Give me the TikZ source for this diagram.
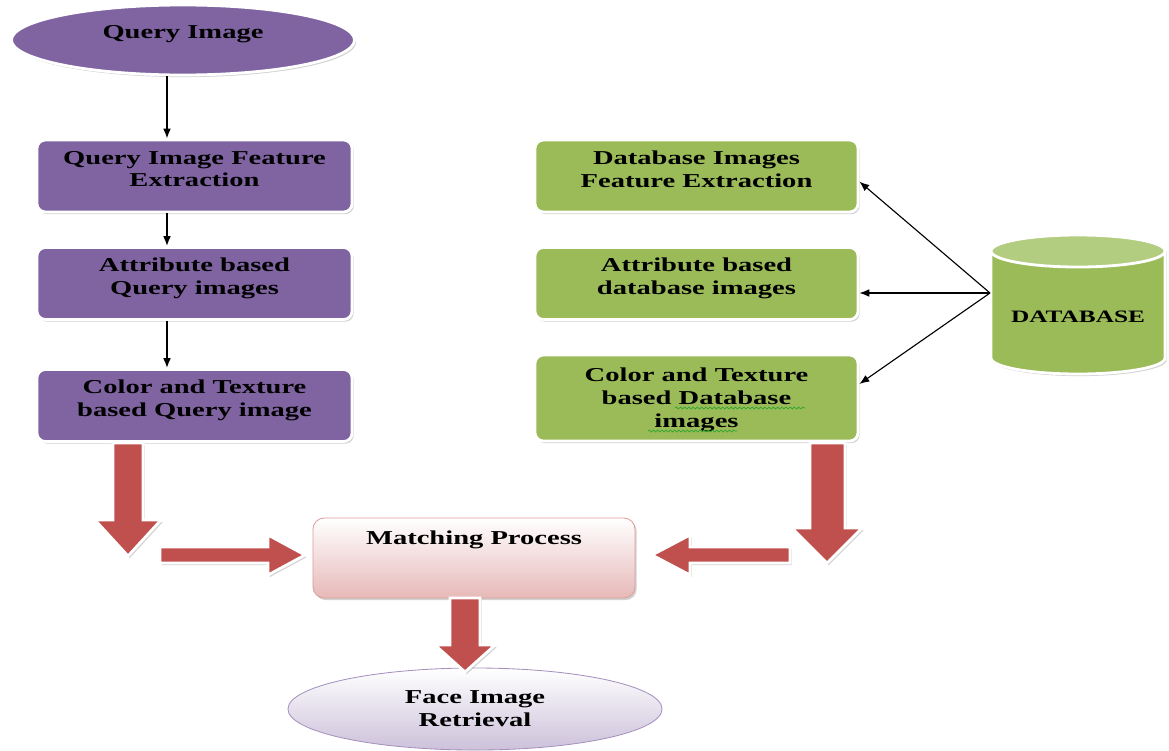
\documentclass[tikz,border=0pt]{standalone}
\usepackage{fontspec}
\setmainfont{Liberation Serif}[FakeStretch=1.45]
\usepackage{tikz}
\usetikzlibrary{shapes.geometric, arrows.meta, shadows, decorations.pathmorphing}
\definecolor{qpurple}{HTML}{8064A2}
\definecolor{dbgreen}{HTML}{9BBB59}
\definecolor{dbtop}{HTML}{B3CD80}
\definecolor{blockred}{HTML}{C0504D}
\definecolor{matchpink}{HTML}{E6B9B8}
\definecolor{facelilac}{HTML}{CCC1DA}
\definecolor{spellgreen}{HTML}{2DA52D}

\begin{document}
\begin{tikzpicture}[x=0.025cm, y=-0.025cm, font=\bfseries\fontsize{14}{16.3}\selectfont,
  softshadow/.style={drop shadow={shadow xshift=1.2pt, shadow yshift=-1.5pt, fill=black!40, opacity=.45}},
  qbox/.style={rectangle, rounded corners=6pt, fill=qpurple, draw=white, line width=2pt, softshadow,
    minimum width=7.875cm, minimum height=1.8cm, align=center, inner sep=2pt, text depth=10pt},
  dbbox/.style={qbox, fill=dbgreen, minimum width=8.075cm},
  thinarrow/.style={-{Latex[length=7pt,width=5.5pt]}, line width=1.1pt},
  dbarrow/.style={-{Latex[length=7pt,width=5.5pt]}, line width=0.8pt},
  blockarrow/.style={fill=blockred, draw=white, line width=2pt, softshadow},
  squiggle/.style={spellgreen, line width=0.5pt, decorate, decoration={snake, segment length=3pt, amplitude=0.7pt}}]
  \useasboundingbox (0,0) rectangle (1169,750);

  \node[ellipse, fill=qpurple, draw=white, line width=2pt, softshadow, minimum width=8.575cm,
        minimum height=1.75cm, text depth=0.4cm] (qimg) at (183,40) {Query Image};
  \node[qbox] (qfeat) at (194.5,176) {Query Image Feature\\ Extraction};
  \node[qbox] (qattr) at (194.5,283.5) {Attribute based\\ Query images};
  \node[qbox] (qcol) at (194.5,405.5) {Color and Texture\\ based Query image};

  \node[dbbox] (dfeat) at (696.5,176) {Database Images\\ Feature Extraction};
  \node[dbbox] (dattr) at (696.5,283.5) {Attribute based\\ database images};
  \node[dbbox, minimum height=2.15cm, text depth=0pt] (dcol) at (696.5,398) {Color and Texture\\ based Database\\ images};
  \draw[squiggle] (675,408) -- (805,408);
  \draw[squiggle] (648,431) -- (737,431);

  \path[fill=dbgreen, draw=white, line width=2pt, softshadow] (991,251) -- (991,358)
        arc[start angle=180, end angle=0, x radius=87, y radius=16] -- (1165,251)
        arc[start angle=0, end angle=-180, x radius=87, y radius=16] -- cycle;
  \filldraw[fill=dbtop, draw=white, line width=2pt] (1078,251) ellipse [x radius=87, y radius=16];
  \node[font=\bfseries\fontsize{12.4}{14}\selectfont] (db) at (1078,317) {DATABASE};

  \node[rectangle, rounded corners=8pt, top color=white, bottom color=matchpink,
        draw=matchpink!75!blockred, line width=0.6pt, softshadow, minimum width=8.05cm, minimum height=2cm,
        text height=0.35cm, text depth=1.05cm, inner ysep=0.3cm] (match) at (474,558) {Matching Process};
  \node[ellipse, top color=white, bottom color=facelilac, draw=qpurple!70, line width=0.6pt,
        minimum width=9.35cm, minimum height=2.05cm, align=center] (face) at (475,709) {Face Image\\ Retrieval};

  \coordinate (ax) at (167,0);
  \draw[thinarrow] (qimg.south -| ax) -- (qfeat.north -| ax);
  \draw[thinarrow] (qfeat.south -| ax) -- (qattr.north -| ax);
  \draw[thinarrow] (qattr.south -| ax) -- (qcol.north -| ax);

  \coordinate (dbtap) at (990,293);
  \draw[dbarrow] (dbtap) -- ([yshift=-4pt]dfeat.east);
  \draw[dbarrow] (dbtap) -- (dattr.east |- dbtap);
  \draw[dbarrow] (dbtap) -- ([yshift=10pt]dcol.east);

  \draw[blockarrow] (113,443) -- (143,443) -- (143,520) -- (161,520) -- (128,556) -- (95,520) -- (113,520) -- cycle;
  \draw[blockarrow] (160,547) -- (268,547) -- (268,535) -- (305,555) -- (268,575) -- (268,563) -- (160,563) -- cycle;
  \draw[blockarrow] (790,547) -- (690,547) -- (690,535) -- (652,555) -- (690,575) -- (690,563) -- (790,563) -- cycle;
  \draw[blockarrow] (810,443) -- (845,443) -- (845,528) -- (862,528) -- (827,563) -- (792,528) -- (810,528) -- cycle;
  \draw[blockarrow] (450,598) -- (480,598) -- (480,645) -- (495,645) -- (465,672) -- (435,645) -- (450,645) -- cycle;
\end{tikzpicture}
\end{document}
